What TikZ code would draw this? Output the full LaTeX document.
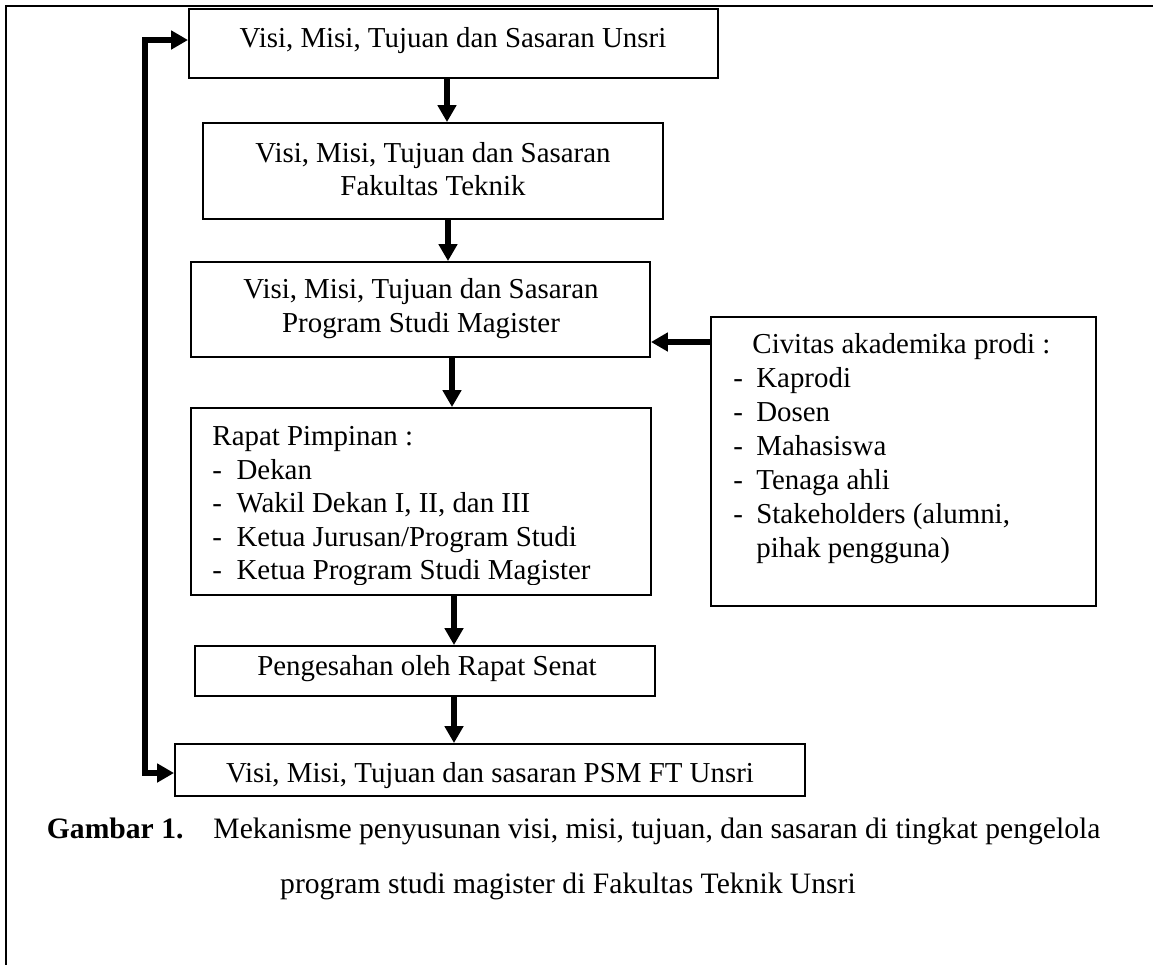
\documentclass[tikz,border=0pt]{standalone}
\usepackage{fontspec}
\setmainfont{Liberation Serif}
\usetikzlibrary{arrows.meta,fit}
\begin{document}
\begin{tikzpicture}[x=0.4152pt,y=-0.4152pt,
  box/.style={draw, line width=0.8pt, inner sep=0pt},
  txt/.style={inner sep=0pt, anchor=base, font=\fontsize{12}{14}\selectfont},
  ltxt/.style={txt, anchor=base west},
  rtxt/.style={txt, anchor=base east},
  captxt/.style={inner sep=0pt, font=\fontsize{12.3}{14}\selectfont},
  capbold/.style={inner sep=0pt, font={\fontsize{12.3}{14}\selectfont\bfseries}},
  arr/.style={line width=2.2pt, -{Triangle[length=7pt,width=7.5pt]}},
  looparr/.style={line width=2.2pt, {Triangle[length=7pt,width=7.5pt]}-{Triangle[length=7pt,width=7.5pt]}}]
\useasboundingbox (0,0) rectangle (1153,965);
\fill[white] (0,0) rectangle (1153,965);
% outer frame (top and left edges)
\draw[line width=1.2pt] (6,965) -- (6,6) -- (1153,6);

% boxes
\node[box, fit={(189,9) (718,78)}] (b1) {};
\node[box, fit={(203,123) (663,219)}] (b2) {};
\node[box, fit={(191,262) (650,357)}] (b3) {};
\node[box, fit={(711,317) (1096,606)}] (rb) {};
\node[box, fit={(191,408) (651,595)}] (b4) {};
\node[box, fit={(195,646) (655,696)}] (b5) {};
\node[box, fit={(175,744) (805,796)}] (b6) {};

% texts
\node[txt] (t1) at (453,47) {Visi, Misi, Tujuan dan Sasaran Unsri};
\node[txt] (t2a) at (433,162) {Visi, Misi, Tujuan dan Sasaran};
\node[txt] (t2b) at (433,195) {Fakultas Teknik};
\node[txt] (t3a) at (421,298) {Visi, Misi, Tujuan dan Sasaran};
\node[txt] (t3b) at (421,332) {Program Studi Magister};

\begin{scope}
\clip (191,408) rectangle (651,584);
\node[ltxt] (t4a) at (212,445) {Rapat Pimpinan :};
\node[ltxt] (t4b) at (212,479) {\makebox[10pt][l]{-}Dekan};
\node[ltxt] (t4c) at (212,512) {\makebox[10pt][l]{-}Wakil Dekan I, II, dan III};
\node[ltxt] (t4d) at (212,546) {\makebox[10pt][l]{-}Ketua Jurusan/Program Studi};
\node[ltxt] (t4e) at (212,579) {\makebox[10pt][l]{-}Ketua Program Studi Magister};
\end{scope}

\node[ltxt] (r0) at (752,353) {Civitas akademika prodi :};
\node[ltxt] (r1) at (733,387) {\makebox[9.5pt][l]{-}Kaprodi};
\node[ltxt] (r2) at (733,421) {\makebox[9.5pt][l]{-}Dosen};
\node[ltxt] (r3) at (733,455) {\makebox[9.5pt][l]{-}Mahasiswa};
\node[ltxt] (r4) at (733,489) {\makebox[9.5pt][l]{-}Tenaga ahli};
\node[ltxt] (r5) at (733,523) {\makebox[9.5pt][l]{-}Stakeholders (alumni,};
\node[ltxt] (r6) at (756,557) {pihak pengguna)};

\node[txt] (t5) at (427,675) {Pengesahan oleh Rapat Senat};
\node[txt] (t6) at (490,782) {Visi, Misi, Tujuan dan sasaran PSM FT Unsri};

% caption
\node[capbold, anchor=base east] (cap0) at (184,838) {Gambar 1.};
\node[captxt, anchor=base west] (cap1) at (213,838) {Mekanisme penyusunan visi, misi, tujuan, dan sasaran di tingkat pengelola};
\node[captxt, anchor=base] (cap2) at (568,893) {program studi magister di Fakultas Teknik Unsri};

% connector guide coordinates
\coordinate (xa1) at (447,0);
\coordinate (xa2) at (448,0);
\coordinate (xa3) at (452,0);
\coordinate (xa4) at (454,0);
\coordinate (yr) at (0,342);
\coordinate (lx) at (145,0);
\coordinate (ly1) at (0,40);
\coordinate (ly6) at (0,773);

% connectors
\draw[arr] (b1.south -| xa1) -- (b2.north -| xa1);
\draw[arr] (b2.south -| xa2) -- (b3.north -| xa2);
\draw[arr] (b3.south -| xa3) -- (b4.north -| xa3);
\draw[arr] (b4.south -| xa4) -- (b5.north -| xa4);
\draw[arr] (b5.south -| xa4) -- (b6.north -| xa4);
\draw[arr] (rb.west |- yr) -- (b3.east |- yr);
\draw[looparr] (b1.west |- ly1) -- (lx |- ly1) -- (lx |- ly6) -- (b6.west |- ly6);
\end{tikzpicture}
\end{document}
